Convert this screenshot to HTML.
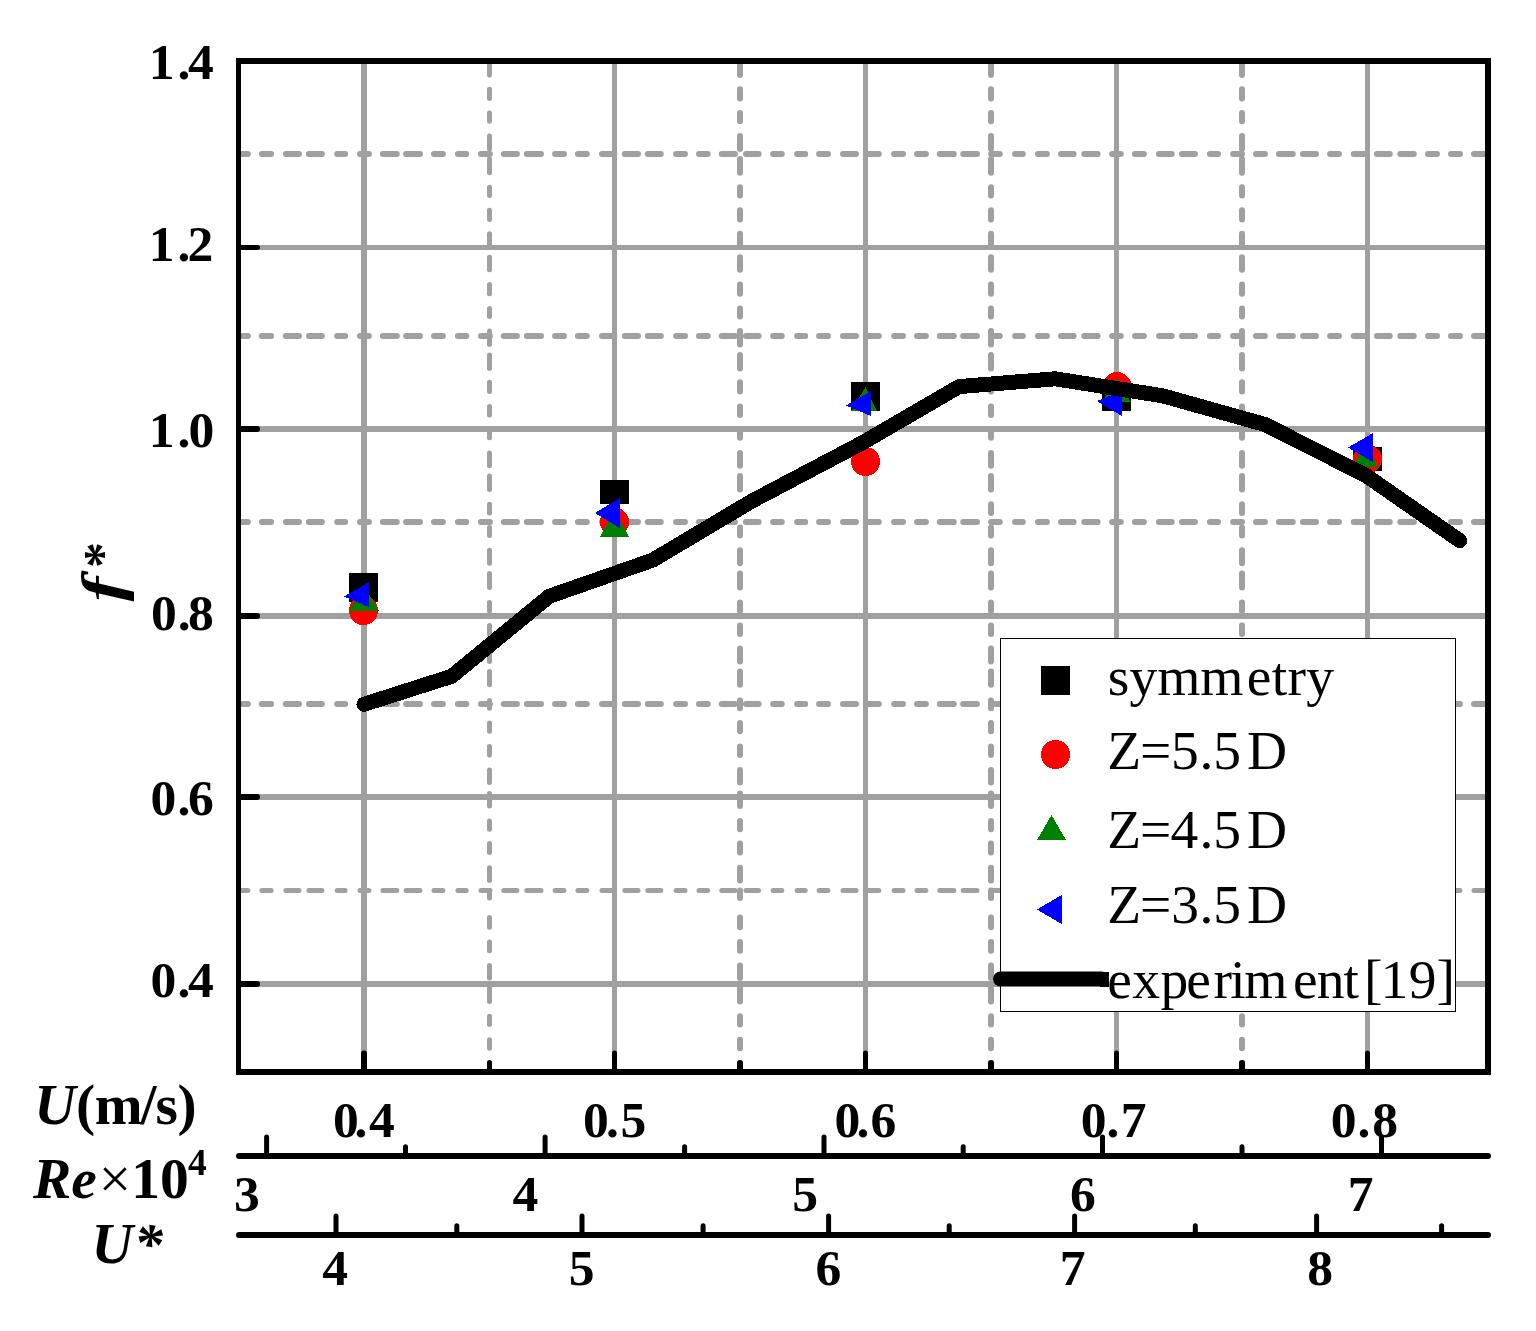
<!DOCTYPE html>
<html lang="en">
<head>
<meta charset="utf-8">
<title>f* versus U</title>
<style>
html,body{margin:0;padding:0;background:#fff;}
body{width:1536px;height:1331px;overflow:hidden;}
svg{display:block;position:absolute;left:0;top:0;}
text{font-family:"Liberation Serif","DejaVu Serif",serif;fill:#000;white-space:pre;}
.r{font-weight:normal;font-style:normal;}
.b{font-weight:bold;font-style:normal;}
.bi{font-weight:bold;font-style:italic;}
</style>
</head>
<body>
<svg width="1536" height="1331" viewBox="0 0 1536 1331">
<rect x="0" y="0" width="1536" height="1331" fill="#fff"/>
<g shape-rendering="crispEdges">
<rect x="241" y="245" width="1244" height="5" fill="#a0a0a0"/>
<rect x="241" y="426" width="1244" height="6" fill="#a0a0a0"/>
<rect x="241" y="613" width="1244" height="6" fill="#a0a0a0"/>
<rect x="241" y="794" width="1244" height="6" fill="#a0a0a0"/>
<rect x="241" y="981" width="1244" height="6" fill="#a0a0a0"/>
<rect x="361" y="64" width="6" height="1005" fill="#a0a0a0"/>
<rect x="612" y="64" width="5" height="1005" fill="#a0a0a0"/>
<rect x="863" y="64" width="5" height="1005" fill="#a0a0a0"/>
<rect x="1114" y="64" width="5" height="1005" fill="#a0a0a0"/>
<rect x="1365" y="64" width="5" height="1005" fill="#a0a0a0"/>
</g>
<g stroke="#a0a0a0" stroke-linecap="round" fill="none" stroke-dasharray="8.9 14 9.2 14.8 13.1 9.9 13 15.3 7.9 14.9 8.9 14 13.9 9.3 13.9 14 8.9 15 8.3 14.8 8.9 13.9 13.1 9.9 14.2 14.1 8.9 13.9 8.9 15.2 12.3 10.5 13.2 9.8 13 15.3 8.9 14 8.7 14.1 13.1 11.1 12.6 14.5 8.7 15.3 8.1 13.9 8.9 15 13 10 12.8 15.3 8.9 14 8.9 13.9 14 9.4 13.8 14.1 8.7 15.3 7.7 15.2 8.9 14.1 12.6 10.6 13.4 14.5 8.7 14.2 8.9 15.1 12.8 10.2 13 14.9 8.1 15.1 8.9 14 8.9 14.1 13.8 10.2 13 14.1 8.9 14.8 12.6 10.6 12.8 10.5 13.5 14.2 9 14 9 14 12 50">
<line x1="239.0" y1="154.0" x2="1486.0" y2="154.0" stroke-width="6"/>
<line x1="239.0" y1="336.0" x2="1486.0" y2="336.0" stroke-width="6"/>
<line x1="239.0" y1="522.0" x2="1486.0" y2="522.0" stroke-width="6"/>
<line x1="239.0" y1="704.0" x2="1486.0" y2="704.0" stroke-width="6"/>
<line x1="239.0" y1="890.5" x2="1486.0" y2="890.5" stroke-width="5"/>
</g>
<g stroke="#a0a0a0" stroke-linecap="round" fill="none" stroke-dasharray="13 14.3 9.2 14.6 8.2 14.8 12.9 10 13.7 14.6 8.3 14.7 9.3 14.2 13.2 10.2 12.6 14.8 9.2 14.6 8.2 14.4 13.6 10.3 13.5 13.8 9.3 15.1 8.3 14.2 8.6 15.2 12.8 10.3 13.5 14.8 8.6 14.6 7.9 14.9 13 10.2 13.9 15.1 8.5 14.4 8.6 14.5 13 10 13.3 15.8 7.7 14.7 8.3 15.2 8.6 14.8 12.6 10.9 12.5 15 8.3 14.2 9.2 15.2 12.7 10 7.4 19.7 9.6 14.8 8.7 14.8 12.5 10 13.5 14.7 8.3 15.2 8.6 14.7 6 50">
<line x1="489.5" y1="62.0" x2="489.5" y2="1069.0" stroke-width="5"/>
<line x1="740.0" y1="62.0" x2="740.0" y2="1069.0" stroke-width="6"/>
<line x1="991.0" y1="62.0" x2="991.0" y2="1069.0" stroke-width="6"/>
<line x1="1242.0" y1="62.0" x2="1242.0" y2="1069.0" stroke-width="6"/>
</g>
<g shape-rendering="crispEdges">
<rect x="349" y="573" width="29" height="29" fill="#000"/>
<ellipse cx="363.5" cy="610.6" rx="14.5" ry="14.5" fill="#ff0000"/>
<polygon points="349,611 379,611 364,586" fill="#008000"/>
<polygon points="369,582 369,607 344,596.5" fill="#0000ff"/>
<rect x="600" y="480" width="29" height="24" fill="#000"/>
<ellipse cx="614.5" cy="522" rx="14.5" ry="14.5" fill="#ff0000"/>
<polygon points="600,537 629,537 614.5,509.5" fill="#008000"/>
<polygon points="620,498 620,528 595,513" fill="#0000ff"/>
<rect x="851" y="382" width="29" height="29" fill="#000"/>
<ellipse cx="865.5" cy="461.5" rx="14.5" ry="14.5" fill="#ff0000"/>
<polygon points="851,411 877,411 865.5,387" fill="#008000"/>
<polygon points="871,391 871,416 846,405.5" fill="#0000ff"/>
<rect x="1102" y="382" width="29" height="29" fill="#000"/>
<ellipse cx="1117" cy="386.5" rx="14.5" ry="14.5" fill="#ff0000"/>
<polygon points="1102,402 1131,402 1116.5,378" fill="#008000"/>
<polygon points="1122,391 1122,416 1097,401" fill="#0000ff"/>
<rect x="1353" y="447" width="29" height="24" fill="#000"/>
<ellipse cx="1367.5" cy="459" rx="14.5" ry="14.5" fill="#ff0000"/>
<polygon points="1353,467 1378,467 1366,442" fill="#008000"/>
<polygon points="1373,433 1373,462 1348,447.5" fill="#0000ff"/>
</g>
<polyline points="364,704.3 451.7,676.3 549.2,596.3 652.7,560.1 752,501 863,442.5 959,386.6 1055.2,378.8 1162.7,395.8 1265,424.5 1366.3,475.7 1459.8,540.7" fill="none" stroke="#000" stroke-width="15" stroke-linecap="round" stroke-linejoin="round" shape-rendering="crispEdges"/>
<rect x="1000.5" y="638.5" width="455" height="373" fill="#fff" stroke="#000" stroke-width="1" shape-rendering="crispEdges"/>
<g shape-rendering="crispEdges">
<rect x="1041" y="666" width="29" height="29" fill="#000"/>
<circle cx="1055.5" cy="754.5" r="14.5" fill="#ff0000"/>
<polygon points="1037,840 1066,840 1051.5,815" fill="#008000"/>
<polygon points="1061.5,895 1061.5,924 1037,909.5" fill="#0000ff"/>
</g>
<path d="M1000.5 979 H1101.5" stroke="#000" stroke-width="15" stroke-linecap="round" fill="none"/>
<rect x="1100" y="971.5" width="9" height="15.0" fill="#000" shape-rendering="crispEdges"/>
<g shape-rendering="crispEdges">
<rect x="236" y="58" width="5" height="1017" fill="#000"/>
<rect x="1485" y="58" width="6" height="1017" fill="#000"/>
<rect x="236" y="58" width="1255" height="6" fill="#000"/>
<rect x="236" y="1069" width="1255" height="6" fill="#000"/>
</g>
<g stroke="#000" stroke-linecap="round" fill="none">
<line x1="241" y1="247.5" x2="257.5" y2="247.5" stroke-width="5"/>
<line x1="241" y1="429.0" x2="257.0" y2="429.0" stroke-width="6"/>
<line x1="241" y1="616.0" x2="257.0" y2="616.0" stroke-width="6"/>
<line x1="241" y1="797.0" x2="257.0" y2="797.0" stroke-width="6"/>
<line x1="241" y1="984.0" x2="257.0" y2="984.0" stroke-width="6"/>
<line x1="364.0" y1="1069" x2="364.0" y2="1053.5" stroke-width="6"/>
<line x1="614.5" y1="1069" x2="614.5" y2="1053.0" stroke-width="5"/>
<line x1="865.5" y1="1069" x2="865.5" y2="1053.0" stroke-width="5"/>
<line x1="1116.5" y1="1069" x2="1116.5" y2="1053.0" stroke-width="5"/>
<line x1="1367.5" y1="1069" x2="1367.5" y2="1053.0" stroke-width="5"/>
<line x1="489.5" y1="1069" x2="489.5" y2="1062.5" stroke-width="5"/>
<line x1="740.0" y1="1069" x2="740.0" y2="1063.0" stroke-width="6"/>
<line x1="991.0" y1="1069" x2="991.0" y2="1063.0" stroke-width="6"/>
<line x1="1242.0" y1="1069" x2="1242.0" y2="1063.0" stroke-width="6"/>
<line x1="239" y1="1156" x2="1488" y2="1156" stroke-width="6"/>
<line x1="266.6" y1="1156" x2="266.6" y2="1137" stroke-width="5"/>
<line x1="545.1" y1="1156" x2="545.1" y2="1137" stroke-width="5"/>
<line x1="824" y1="1156" x2="824" y2="1137" stroke-width="5"/>
<line x1="1102.5" y1="1156" x2="1102.5" y2="1137" stroke-width="5"/>
<line x1="1381.5" y1="1156" x2="1381.5" y2="1137" stroke-width="5"/>
<line x1="405.5" y1="1156" x2="405.5" y2="1146.8" stroke-width="5"/>
<line x1="684.6" y1="1156" x2="684.6" y2="1146.8" stroke-width="5"/>
<line x1="963.2" y1="1156" x2="963.2" y2="1146.8" stroke-width="5"/>
<line x1="1242" y1="1156" x2="1242" y2="1146.8" stroke-width="5"/>
<line x1="239" y1="1235" x2="1488" y2="1235" stroke-width="6"/>
<line x1="336" y1="1235" x2="336" y2="1216" stroke-width="5"/>
<line x1="582" y1="1235" x2="582" y2="1216" stroke-width="5"/>
<line x1="828.6" y1="1235" x2="828.6" y2="1216" stroke-width="5"/>
<line x1="1074.6" y1="1235" x2="1074.6" y2="1216" stroke-width="5"/>
<line x1="1316.6" y1="1235" x2="1316.6" y2="1216" stroke-width="5"/>
<line x1="456.8" y1="1235" x2="456.8" y2="1225.8" stroke-width="5"/>
<line x1="703.1" y1="1235" x2="703.1" y2="1225.8" stroke-width="5"/>
<line x1="949.2" y1="1235" x2="949.2" y2="1225.8" stroke-width="5"/>
<line x1="1195.3" y1="1235" x2="1195.3" y2="1225.8" stroke-width="5"/>
<line x1="1441.6" y1="1235" x2="1441.6" y2="1225.8" stroke-width="5"/>
</g>
<text><tspan id="y14_0" class="b" font-size="51.6" x="148.7" y="79.2">1</tspan><tspan id="y14_1" class="b" font-size="51.6" x="177.5" y="79.2">.</tspan><tspan id="y14_2" class="b" font-size="51.6" x="188.0" y="79.2">4</tspan></text>
<text><tspan id="y12_0" class="b" font-size="51.6" x="148.7" y="261.1">1</tspan><tspan id="y12_1" class="b" font-size="51.6" x="177.5" y="261.1">.</tspan><tspan id="y12_2" class="b" font-size="51.6" x="187.5" y="261.1">2</tspan></text>
<text><tspan id="y10_0" class="b" font-size="51.6" x="148.7" y="447.2">1</tspan><tspan id="y10_1" class="b" font-size="51.6" x="177.5" y="447.2">.</tspan><tspan id="y10_2" class="b" font-size="51.6" x="188.5" y="447.2">0</tspan></text>
<text><tspan id="y08_0" class="b" font-size="51.6" x="151.0" y="629.5">0</tspan><tspan id="y08_1" class="b" font-size="51.6" x="177.7" y="629.5">.</tspan><tspan id="y08_2" class="b" font-size="51.6" x="188.1" y="629.5">8</tspan></text>
<text><tspan id="y06_0" class="b" font-size="51.6" x="150.4" y="815.2">0</tspan><tspan id="y06_1" class="b" font-size="51.6" x="177.5" y="815.2">.</tspan><tspan id="y06_2" class="b" font-size="51.6" x="188.0" y="815.2">6</tspan></text>
<text><tspan id="y04_0" class="b" font-size="51.6" x="150.4" y="997.1">0</tspan><tspan id="y04_1" class="b" font-size="51.6" x="177.5" y="997.1">.</tspan><tspan id="y04_2" class="b" font-size="51.6" x="188.0" y="997.1">4</tspan></text>
<text><tspan id="x04_0" class="b" font-size="51.6" x="333.0" y="1136.5">0</tspan><tspan id="x04_1" class="b" font-size="51.6" x="354.5" y="1136.5">.</tspan><tspan id="x04_2" class="b" font-size="51.6" x="369.1" y="1136.5">4</tspan></text>
<text><tspan id="x05_0" class="b" font-size="51.6" x="583.0" y="1136.5">0</tspan><tspan id="x05_1" class="b" font-size="51.6" x="606.0" y="1136.5">.</tspan><tspan id="x05_2" class="b" font-size="51.6" x="620.5" y="1136.5">5</tspan></text>
<text><tspan id="x06_0" class="b" font-size="51.6" x="834.5" y="1136.5">0</tspan><tspan id="x06_1" class="b" font-size="51.6" x="856.4" y="1136.5">.</tspan><tspan id="x06_2" class="b" font-size="51.6" x="870.5" y="1136.5">6</tspan></text>
<text><tspan id="x07_0" class="b" font-size="51.6" x="1080.8" y="1136.5">0</tspan><tspan id="x07_1" class="b" font-size="51.6" x="1106.5" y="1136.5">.</tspan><tspan id="x07_2" class="b" font-size="51.6" x="1120.7" y="1136.5">7</tspan></text>
<text><tspan id="x08_0" class="b" font-size="51.6" x="1330.7" y="1136.5">0</tspan><tspan id="x08_1" class="b" font-size="51.6" x="1357.4" y="1136.5">.</tspan><tspan id="x08_2" class="b" font-size="51.6" x="1372.3" y="1136.5">8</tspan></text>
<text><tspan id="re3" class="b" font-size="51.6" x="233.9" y="1211.4">3</tspan></text>
<text><tspan id="re4" class="b" font-size="51.6" x="512.6" y="1211.4">4</tspan></text>
<text><tspan id="re5" class="b" font-size="51.6" x="792.3" y="1211.4">5</tspan></text>
<text><tspan id="re6" class="b" font-size="51.6" x="1070.0" y="1211.4">6</tspan></text>
<text><tspan id="re7" class="b" font-size="51.6" x="1347.8" y="1211.4">7</tspan></text>
<text><tspan id="us4" class="b" font-size="51.6" x="322.3" y="1285.4">4</tspan></text>
<text><tspan id="us5" class="b" font-size="51.6" x="568.8" y="1285.4">5</tspan></text>
<text><tspan id="us6" class="b" font-size="51.6" x="815.4" y="1285.4">6</tspan></text>
<text><tspan id="us7" class="b" font-size="51.6" x="1059.8" y="1285.4">7</tspan></text>
<text><tspan id="us8" class="b" font-size="51.6" x="1307.2" y="1285.4">8</tspan></text>
<text><tspan id="tU1" class="bi" font-size="57.5" x="34.2" y="1123.5">U</tspan><tspan id="tU2" class="b" font-size="57.5" x="76.1" y="1123.5">(</tspan><tspan id="tU3" class="b" font-size="57.5" x="94.7" y="1123.5">m</tspan><tspan id="tU4" class="b" font-size="57.5" x="140.5" y="1123.5">/</tspan><tspan id="tU5" class="b" font-size="57.5" x="155.4" y="1123.5">s</tspan><tspan id="tU6" class="b" font-size="57.5" x="177.6" y="1123.5">)</tspan></text>
<text><tspan id="tR1" class="bi" font-size="57.5" x="33.0" y="1197.7">Re</tspan><tspan id="tR2" class="r" font-size="57.5" x="98.7" y="1197.7">×</tspan><tspan id="tR3" class="b" font-size="57.5" x="131.2" y="1197.7">10</tspan><tspan id="tR4" class="b" font-size="37.5" x="187.9" y="1175">4</tspan></text>
<text><tspan id="tS1" class="bi" font-size="57.5" x="91.4" y="1262.7">U</tspan><tspan id="tS2" class="bi" font-size="57.5" x="134.1" y="1262.7">*</tspan></text>
<text><tspan id="l1a" class="r" font-size="55.5" x="1107.8" y="694.8" letter-spacing="0.01">symm</tspan><tspan id="l1b" class="r" font-size="55.5" x="1246.7" y="694.8" letter-spacing="0.34">etry</tspan></text>
<text><tspan id="l2a" class="r" font-size="55.5" x="1107.3" y="768.7">Z</tspan><tspan id="l2b" class="r" font-size="55.5" x="1139.9" y="768.7">=</tspan><tspan id="l2c" class="r" font-size="55.5" x="1171.0" y="768.7">5</tspan><tspan id="l2d" class="r" font-size="55.5" x="1199.6" y="768.7">.</tspan><tspan id="l2e" class="r" font-size="55.5" x="1213.2" y="768.7">5</tspan><tspan id="l2f" class="r" font-size="55.5" x="1247.0" y="768.7">D</tspan></text>
<text><tspan id="l3a" class="r" font-size="55.5" x="1107.3" y="847.8">Z</tspan><tspan id="l3b" class="r" font-size="55.5" x="1139.9" y="847.8">=</tspan><tspan id="l3c" class="r" font-size="55.5" x="1170.6" y="847.8">4</tspan><tspan id="l3d" class="r" font-size="55.5" x="1199.6" y="847.8">.</tspan><tspan id="l3e" class="r" font-size="55.5" x="1213.2" y="847.8">5</tspan><tspan id="l3f" class="r" font-size="55.5" x="1247.0" y="847.8">D</tspan></text>
<text><tspan id="l4a" class="r" font-size="55.5" x="1107.3" y="923.2">Z</tspan><tspan id="l4b" class="r" font-size="55.5" x="1139.9" y="923.2">=</tspan><tspan id="l4c" class="r" font-size="55.5" x="1171.2" y="923.2">3</tspan><tspan id="l4d" class="r" font-size="55.5" x="1199.6" y="923.2">.</tspan><tspan id="l4e" class="r" font-size="55.5" x="1213.2" y="923.2">5</tspan><tspan id="l4f" class="r" font-size="55.5" x="1247.0" y="923.2">D</tspan></text>
<text><tspan id="l5a" class="r" font-size="55.5" x="1107.2" y="998.3" letter-spacing="0.5">exp</tspan><tspan id="l5b" class="r" font-size="55.5" x="1186.2" y="998.3">e</tspan><tspan id="l5c" class="r" font-size="55.5" x="1213.4" y="998.3" letter-spacing="-1.5">rim</tspan><tspan id="l5d" class="r" font-size="55.5" x="1293.1" y="998.3" letter-spacing="-1.0">ent</tspan><tspan id="l5e" class="r" font-size="55.5" x="1363.9" y="998.3">[</tspan><tspan id="l5f" class="r" font-size="55.5" x="1380.6" y="998.3">1</tspan><tspan id="l5g" class="r" font-size="55.5" x="1408.8" y="998.3">9]</tspan></text>
<g transform="translate(122,601.5) rotate(-90)" font-size="57.5"><text class="bi" id="tf1" transform="scale(1.3,1)" x="0" y="0">f</text><text class="b" id="tf2" x="33.5" y="-2" font-size="52">*</text></g>
</svg>
</body>
</html>
